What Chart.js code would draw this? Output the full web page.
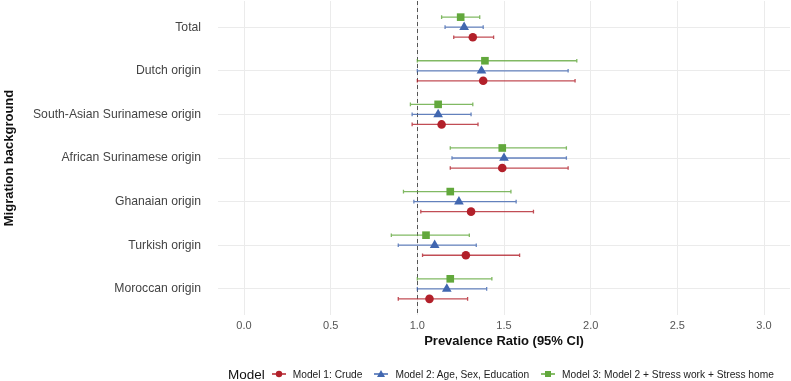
<!DOCTYPE html>
<html>
<head>
<meta charset="utf-8">
<script src="https://cdn.jsdelivr.net/npm/chart.js@4.4.1/dist/chart.umd.min.js"></script>
<style>
  html, body { margin: 0; padding: 0; background: #fff; }
  #wrap { position: relative; width: 791px; height: 381px; }
  #legend {
    position: absolute; left: 228px; top: 366px; height: 16px;
    display: flex; align-items: center; white-space: nowrap;
    font-family: "Liberation Sans", Arial, sans-serif; font-size: 10.2px; color: #222;
  }
  #legend .title { font-size: 13.5px; margin-right: 7px; color: #111; }
  #legend .item { display: flex; align-items: center; margin-right: 12px; }
  #legend .item svg { margin-right: 7px; }
</style>
</head>
<body>
<div id="wrap">
  <canvas id="forest" width="791" height="381"></canvas>
  <div id="legend"></div>
</div>
<script>
// Data
const categories = ['Total', 'Dutch origin', 'South-Asian Surinamese origin', 'African Surinamese origin',
  'Ghanaian origin', 'Turkish origin', 'Moroccan origin'];
const xTicks = [0.0, 0.5, 1.0, 1.5, 2.0, 2.5, 3.0];

const crudeEst = [1.32, 1.38, 1.14, 1.49, 1.31, 1.28, 1.07];
const crudeLow = [1.21, 1.00, 0.97, 1.19, 1.02, 1.03, 0.89];
const crudeHigh = [1.44, 1.91, 1.35, 1.87, 1.67, 1.59, 1.29];

const ageEst = [1.27, 1.37, 1.12, 1.50, 1.24, 1.10, 1.17];
const ageLow = [1.16, 1.00, 0.97, 1.20, 0.98, 0.89, 1.00];
const ageHigh = [1.38, 1.87, 1.31, 1.86, 1.57, 1.34, 1.40];

const stressEst = [1.25, 1.39, 1.12, 1.49, 1.19, 1.05, 1.19];
const stressLow = [1.14, 1.00, 0.96, 1.19, 0.92, 0.85, 1.00];
const stressHigh = [1.36, 1.92, 1.32, 1.86, 1.54, 1.30, 1.43];

const models = [
  { label: 'Model 1: Crude', est: crudeEst, low: crudeLow, high: crudeHigh, color: '#B2202A', style: 'circle', radius: 4.3, shift: 0.23 },
  { label: 'Model 2: Age, Sex, Education', est: ageEst, low: ageLow, high: ageHigh, color: '#4167B0', style: 'triangle', radius: 5.6, shift: 0 },
  { label: 'Model 3: Model 2 + Stress work + Stress home', est: stressEst, low: stressLow, high: stressHigh, color: '#62A83C', style: 'rect', radius: 5.4, shift: -0.23 }
];

const FONT = '"Liberation Sans", Arial, sans-serif';

// error bars, reference line and axis titles
const forestPlugin = {
  id: 'forest',
  beforeDatasetsDraw(chart) {
    const { ctx, chartArea, scales: { x, y } } = chart;
    ctx.save();
    // reference line at 1
    ctx.strokeStyle = '#555';
    ctx.lineWidth = 1;
    ctx.setLineDash([4, 3]);
    const rx = Math.round(x.getPixelForValue(1)) + 0.5;
    ctx.beginPath();
    ctx.moveTo(rx, chartArea.top);
    ctx.lineTo(rx, chartArea.bottom);
    ctx.stroke();
    ctx.setLineDash([]);

    models.forEach(m => {
      ctx.strokeStyle = m.color;
      ctx.globalAlpha = 0.8;
      ctx.lineWidth = 1.3;
      m.est.forEach((v, i) => {
        const py = y.getPixelForValue(i + m.shift);
        const x1 = x.getPixelForValue(m.low[i]);
        const x2 = x.getPixelForValue(m.high[i]);
        ctx.beginPath();
        ctx.moveTo(x1, py);
        ctx.lineTo(x2, py);
        ctx.moveTo(x1, py - 1.8);
        ctx.lineTo(x1, py + 1.8);
        ctx.moveTo(x2, py - 1.8);
        ctx.lineTo(x2, py + 1.8);
        ctx.stroke();
      });
    });
    ctx.restore();
  },
  afterDraw(chart) {
    const { ctx, chartArea } = chart;
    ctx.save();
    ctx.fillStyle = '#111';
    ctx.textAlign = 'center';
    ctx.textBaseline = 'middle';
    ctx.font = 'bold 13px ' + FONT;
    ctx.fillText('Prevalence Ratio (95% CI)', (chartArea.left + chartArea.right) / 2, 341);
    ctx.translate(9, (chartArea.top + chartArea.bottom) / 2);
    ctx.rotate(-Math.PI / 2);
    ctx.fillText('Migration background', 0, 0);
    ctx.restore();
  }
};

const ctx = document.getElementById('forest').getContext('2d');
new Chart(ctx, {
  type: 'scatter',
  data: {
    datasets: models.map(m => ({
      label: m.label,
      data: m.est.map((v, i) => ({ x: v, y: i + m.shift })),
      backgroundColor: m.color,
      borderColor: m.color,
      borderWidth: 0,
      pointStyle: m.style,
      pointRadius: m.radius,
      pointHoverRadius: m.radius
    }))
  },
  options: {
    responsive: false,
    animation: false,
    layout: { autoPadding: false, padding: { top: 1, right: 1, bottom: 31, left: 0 } },
    plugins: {
      legend: { display: false },
      tooltip: { enabled: false }
    },
    scales: {
      x: {
        type: 'linear',
        min: -0.15,
        max: 3.15,
        afterBuildTicks: s => { s.ticks = xTicks.map(v => ({ value: v })); },
        afterFit: s => { s.height = 35; s.paddingLeft = 0; s.paddingRight = 0; },
        grid: { color: '#EBEBEB', lineWidth: 1, drawTicks: false },
        border: { display: false },
        ticks: {
          padding: 4,
          color: '#555',
          font: { family: FONT, size: 11 },
          callback: v => v.toFixed(1)
        }
      },
      y: {
        type: 'linear',
        reverse: true,
        min: -0.6,
        max: 6.6,
        afterBuildTicks: s => { s.ticks = categories.map((c, i) => ({ value: i })); },
        afterFit: s => { s.width = 218; s.paddingTop = 0; s.paddingBottom = 0; },
        grid: { color: '#EBEBEB', lineWidth: 1, drawTicks: false },
        border: { display: false },
        ticks: {
          padding: 17,
          color: '#444',
          font: { family: FONT, size: 12.2 },
          callback: v => categories[v]
        }
      }
    }
  },
  plugins: [forestPlugin]
});

// legend
const legend = document.getElementById('legend');
let html = '<span class="title">Model</span>';
models.forEach(m => {
  let mark = '';
  if (m.style === 'circle') mark = `<circle cx="7" cy="6" r="3.2" fill="${m.color}"/>`;
  if (m.style === 'triangle') mark = `<polygon points="7,2 11,9 3,9" fill="${m.color}"/>`;
  if (m.style === 'rect') mark = `<rect x="4" y="3" width="6" height="6" fill="${m.color}"/>`;
  html += `<span class="item"><svg width="14" height="12"><line x1="0" y1="6" x2="14" y2="6" stroke="${m.color}" stroke-width="1.5"/>${mark}</svg>${m.label}</span>`;
});
legend.innerHTML = html;
</script>
</body>
</html>
